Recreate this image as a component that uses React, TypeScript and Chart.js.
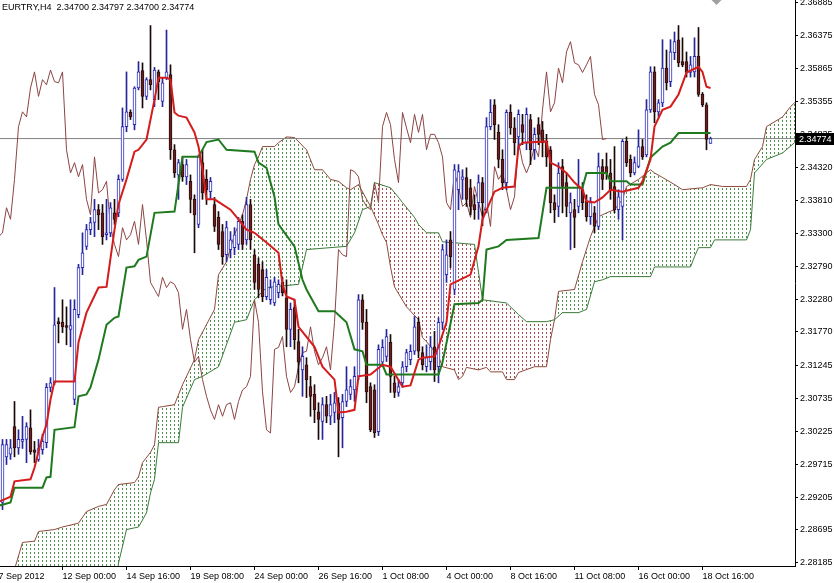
import React, { useEffect, useRef } from 'react';
import { Chart, registerables } from 'chart.js';

Chart.register(...registerables);

const FONT = '"Liberation Sans", Arial, sans-serif';
const TITLE = 'EURTRY,H4  2.34700 2.34797 2.34700 2.34774';
const LAST_PRICE = 2.34774;
const FIRST_BAR = 1;
const CHIKOU_SHIFT = 26;
const X_MIN = 0.375;
const X_MAX = 199.125;
const Y_MIN = 2.28134;
const Y_MAX = 2.36927;

const X_TICKS = [0, 16, 32, 48, 64, 80, 96, 112, 128, 144, 160, 176];
const X_LABELS = ['7 Sep 2012', '12 Sep 00:00', '14 Sep 16:00', '19 Sep 08:00', '24 Sep 00:00', '26 Sep 16:00', '1 Oct 08:00', '4 Oct 00:00', '8 Oct 16:00', '11 Oct 08:00', '16 Oct 00:00', '18 Oct 16:00'];
const Y_TICKS = [2.36885, 2.36375, 2.35865, 2.35355, 2.34835, 2.3432, 2.3381, 2.333, 2.3279, 2.3228, 2.3177, 2.31245, 2.30735, 2.30225, 2.29715, 2.29205, 2.28695, 2.28185];

const OPEN = [
  2.2912, 2.2983, 2.2987, 2.3030, 2.2997, 2.3007, 2.3010, 2.3028, 2.2994, 2.2979,
  2.2994, 2.3005, 2.3091, 2.3098, 2.3193, 2.3192, 2.3187, 2.3181, 2.3072, 2.3204,
  2.3277, 2.3310, 2.3336, 2.3347, 2.3367, 2.3362, 2.3328, 2.3331, 2.3362, 2.3362,
  2.3414, 2.3496, 2.3518, 2.3499, 2.3556, 2.3583, 2.3543, 2.3569, 2.3538, 2.3581,
  2.3535, 2.3572, 2.3577, 2.3460, 2.3421, 2.3437, 2.3418, 2.3411, 2.3383, 2.3344,
  2.3440, 2.3414, 2.3395, 2.3375, 2.3355, 2.3333, 2.3297, 2.3305, 2.3308, 2.3313,
  2.3349, 2.3320, 2.3375, 2.3297, 2.3282, 2.3274, 2.3232, 2.3227, 2.3222, 2.3238,
  2.3254, 2.3230, 2.3181, 2.3215, 2.3162, 2.3118, 2.3126, 2.3092, 2.3080, 2.3053,
  2.3038, 2.3064, 2.3046, 2.3052, 2.3067, 2.3044, 2.3069, 2.3080, 2.3087, 2.3108,
  2.3227, 2.3192, 2.3092, 2.3087, 2.3022, 2.3130, 2.3139, 2.3161, 2.3098, 2.3083,
  2.3098, 2.3123, 2.3134, 2.3147, 2.3192, 2.3145, 2.3123, 2.3131, 2.3154, 2.3123,
  2.3192, 2.3266, 2.3320, 2.3243, 2.3398, 2.3414, 2.3417, 2.3401, 2.3375, 2.3378,
  2.3409, 2.3367, 2.3496, 2.3530, 2.3487, 2.3445, 2.3409, 2.3518, 2.3494, 2.3480,
  2.3499, 2.3471, 2.3507, 2.3460, 2.3499, 2.3491, 2.3473, 2.3460, 2.3378, 2.3372,
  2.3434, 2.3409, 2.3362, 2.3367, 2.3372, 2.3398, 2.3380, 2.3356, 2.3362, 2.3341,
  2.3434, 2.3434, 2.3424, 2.3403, 2.3367, 2.3372, 2.3473, 2.3445, 2.3424, 2.3434,
  2.3465, 2.3452, 2.3522, 2.3581, 2.3519, 2.3533, 2.3587, 2.3566, 2.3611, 2.3631,
  2.3597, 2.3597, 2.3580, 2.3581, 2.3605, 2.3546, 2.3530, 2.34700,
];
const HIGH = [
  2.3010, 2.3010, 2.3010, 2.3069, 2.3025, 2.3046, 2.3036, 2.3056, 2.3007, 2.3010,
  2.3018, 2.3097, 2.3106, 2.3246, 2.3199, 2.3227, 2.3216, 2.3227, 2.3227, 2.3282,
  2.3331, 2.3344, 2.3355, 2.3383, 2.3375, 2.3375, 2.3383, 2.3378, 2.3383, 2.3421,
  2.3525, 2.3581, 2.3522, 2.3558, 2.3597, 2.3595, 2.3572, 2.3653, 2.3588, 2.3584,
  2.3572, 2.3646, 2.3592, 2.3468, 2.3445, 2.3448, 2.3445, 2.3421, 2.3390, 2.3452,
  2.3460, 2.3429, 2.3417, 2.3386, 2.3364, 2.3344, 2.3349, 2.3333, 2.3339, 2.3355,
  2.3359, 2.3386, 2.3383, 2.3305, 2.3292, 2.3286, 2.3274, 2.3258, 2.3262, 2.3258,
  2.3262, 2.3258, 2.3222, 2.3227, 2.3181, 2.3154, 2.3137, 2.3108, 2.3095, 2.3067,
  2.3075, 2.3077, 2.3080, 2.3083, 2.3075, 2.3080, 2.3123, 2.3103, 2.3123, 2.3235,
  2.3235, 2.3212, 2.3098, 2.3095, 2.3157, 2.3165, 2.3181, 2.3173, 2.3108, 2.3103,
  2.3131, 2.3150, 2.3157, 2.3201, 2.3199, 2.3154, 2.3157, 2.3170, 2.3178, 2.3199,
  2.3313, 2.3320, 2.3333, 2.3437, 2.3437, 2.3429, 2.3432, 2.3414, 2.3390, 2.3421,
  2.3417, 2.3510, 2.3538, 2.3538, 2.3499, 2.3460, 2.3522, 2.3530, 2.3510, 2.3522,
  2.3515, 2.3525, 2.3515, 2.3494, 2.3510, 2.3504, 2.3484, 2.3465, 2.3390, 2.3440,
  2.3445, 2.3424, 2.3393, 2.3383, 2.3445, 2.3409, 2.3390, 2.3386, 2.3372, 2.3455,
  2.3445, 2.3455, 2.3445, 2.3465, 2.3398, 2.3476, 2.3480, 2.3452, 2.3449, 2.3491,
  2.3476, 2.3538, 2.3589, 2.3589, 2.3538, 2.3631, 2.3615, 2.3631, 2.3643, 2.3653,
  2.3634, 2.3612, 2.3605, 2.3634, 2.3650, 2.3549, 2.3533, 2.34797,
];
const LOW = [
  2.2901, 2.2971, 2.2979, 2.2983, 2.2987, 2.2996, 2.2974, 2.2987, 2.2974, 2.2976,
  2.2987, 2.2997, 2.3084, 2.3095, 2.3160, 2.3176, 2.3157, 2.3154, 2.3064, 2.3199,
  2.3266, 2.3305, 2.3328, 2.3325, 2.3336, 2.3313, 2.3320, 2.3325, 2.3344, 2.3356,
  2.3411, 2.3488, 2.3507, 2.3491, 2.3553, 2.3525, 2.3538, 2.3553, 2.3527, 2.3538,
  2.3527, 2.3569, 2.3445, 2.3417, 2.3383, 2.3411, 2.3406, 2.3362, 2.3300, 2.3339,
  2.3383, 2.3375, 2.3383, 2.3333, 2.3305, 2.3282, 2.3286, 2.3292, 2.3297, 2.3305,
  2.3305, 2.3313, 2.3305, 2.3243, 2.3230, 2.3224, 2.3227, 2.3220, 2.3218, 2.3230,
  2.3233, 2.3154, 2.3154, 2.3150, 2.3098, 2.3077, 2.3075, 2.3046, 2.3036, 2.3010,
  2.3010, 2.3036, 2.3033, 2.3036, 2.2983, 2.2997, 2.3061, 2.3072, 2.3069, 2.3103,
  2.3181, 2.3067, 2.3022, 2.3013, 2.3016, 2.3123, 2.3131, 2.3083, 2.3075, 2.3077,
  2.3091, 2.3115, 2.3126, 2.3142, 2.3137, 2.3118, 2.3115, 2.3118, 2.3100, 2.3098,
  2.3181, 2.3254, 2.3277, 2.3235, 2.3367, 2.3383, 2.3372, 2.3359, 2.3352, 2.3352,
  2.3342, 2.3362, 2.3491, 2.3476, 2.3432, 2.3398, 2.3398, 2.3484, 2.3452, 2.3460,
  2.3468, 2.3460, 2.3437, 2.3445, 2.3468, 2.3449, 2.3434, 2.3362, 2.3347, 2.3356,
  2.3362, 2.3356, 2.3305, 2.3308, 2.3362, 2.3367, 2.3349, 2.3344, 2.3331, 2.3336,
  2.3398, 2.3414, 2.3383, 2.3362, 2.3352, 2.3320, 2.3434, 2.3418, 2.3421, 2.3432,
  2.3445, 2.3449, 2.3518, 2.3502, 2.3511, 2.3527, 2.3553, 2.3558, 2.3600, 2.3589,
  2.3589, 2.3573, 2.3573, 2.3573, 2.3543, 2.3527, 2.3460, 2.34700,
];
const CLOSE = [
  2.3002, 2.3002, 2.2997, 2.2997, 2.3010, 2.3010, 2.3030, 2.2991, 2.2990, 2.2996,
  2.3007, 2.3091, 2.3098, 2.3188, 2.3190, 2.3185, 2.3184, 2.3187, 2.3212, 2.3277,
  2.3300, 2.3336, 2.3347, 2.3367, 2.3359, 2.3325, 2.3331, 2.3370, 2.3352, 2.3414,
  2.3496, 2.3519, 2.3511, 2.3556, 2.3581, 2.3543, 2.3569, 2.3561, 2.3584, 2.3566,
  2.3564, 2.3581, 2.3460, 2.3424, 2.3440, 2.3418, 2.3437, 2.3383, 2.3359, 2.3449,
  2.3393, 2.3398, 2.3411, 2.3341, 2.3313, 2.3294, 2.3339, 2.3320, 2.3328, 2.3349,
  2.3313, 2.3375, 2.3320, 2.3254, 2.3243, 2.3232, 2.3262, 2.3246, 2.3255, 2.3251,
  2.3238, 2.3181, 2.3212, 2.3165, 2.3130, 2.3139, 2.3103, 2.3077, 2.3056, 2.3041,
  2.3064, 2.3046, 2.3064, 2.3067, 2.3041, 2.3069, 2.3087, 2.3092, 2.3108, 2.3227,
  2.3192, 2.3084, 2.3025, 2.3020, 2.3150, 2.3153, 2.3170, 2.3108, 2.3083, 2.3092,
  2.3123, 2.3145, 2.3147, 2.3185, 2.3147, 2.3126, 2.3137, 2.3154, 2.3118, 2.3192,
  2.3305, 2.3297, 2.3294, 2.3429, 2.3426, 2.3418, 2.3383, 2.3372, 2.3367, 2.3409,
  2.3378, 2.3496, 2.3518, 2.3499, 2.3445, 2.3409, 2.3518, 2.3494, 2.3471, 2.3515,
  2.3487, 2.3515, 2.3460, 2.3484, 2.3484, 2.3471, 2.3449, 2.3378, 2.3367, 2.3424,
  2.3403, 2.3372, 2.3378, 2.3355, 2.3403, 2.3378, 2.3356, 2.3378, 2.3341, 2.3434,
  2.3414, 2.3424, 2.3398, 2.3367, 2.3387, 2.3473, 2.3440, 2.3424, 2.3440, 2.3465,
  2.3449, 2.3522, 2.3581, 2.3519, 2.3533, 2.3587, 2.3564, 2.3612, 2.3628, 2.3595,
  2.3592, 2.3580, 2.3592, 2.3605, 2.3546, 2.3530, 2.3476, 2.34774,
];

// [bar index, price]
const TENKAN = [
  [0, 2.2913], [3, 2.2921], [4, 2.2945], [8, 2.2948], [9, 2.2966], [10, 2.2991], [11, 2.3015], [12, 2.3033],
  [13, 2.3072], [14, 2.3100], [19, 2.3100], [20, 2.3161], [22, 2.3207], [25, 2.3246], [27, 2.3247], [29, 2.3336],
  [30, 2.3375], [32, 2.3414], [34, 2.3457], [35, 2.3460], [37, 2.3476], [39, 2.3538], [40, 2.3572], [42, 2.3572],
  [43, 2.3569], [44, 2.3518], [45, 2.3513], [47, 2.3510], [49, 2.3487], [50, 2.3465], [51, 2.3429], [52, 2.3383],
  [54, 2.3383], [58, 2.3367], [60, 2.3352], [62, 2.3336], [64, 2.3331], [67, 2.3316], [70, 2.3300], [71, 2.3251],
  [72, 2.3232], [74, 2.3227], [75, 2.3185], [79, 2.3154], [81, 2.3123], [84, 2.3103], [85, 2.3052], [87, 2.3053],
  [89, 2.3056], [90, 2.3108], [93, 2.3111], [96, 2.3126], [98, 2.3123], [101, 2.3092], [103, 2.3094], [105, 2.3134],
  [106, 2.3137], [109, 2.3139], [110, 2.3154], [112, 2.3192], [113, 2.3251], [118, 2.3266], [120, 2.3310], [121, 2.3352],
  [124, 2.3395], [126, 2.3401], [129, 2.3403], [130, 2.3465], [131, 2.3471], [137, 2.3473], [138, 2.3440], [140, 2.3434],
  [142, 2.3424], [144, 2.3409], [146, 2.3398], [147, 2.3380], [149, 2.3378], [151, 2.3386], [153, 2.3398], [156, 2.3395],
  [160, 2.3401], [161, 2.3411], [163, 2.3445], [164, 2.3496], [166, 2.3522], [168, 2.3527], [170, 2.3546], [172, 2.3580],
  [175, 2.3589], [176, 2.3581], [177, 2.3558], [178, 2.3556],
];
const KIJUN = [
  [0, 2.2907], [3, 2.2912], [4, 2.2935], [11, 2.2935], [12, 2.2951], [13, 2.2952], [14, 2.3025], [19, 2.3029],
  [20, 2.3077], [22, 2.3080], [23, 2.3091], [25, 2.3134], [27, 2.3188], [29, 2.3199], [30, 2.3201], [32, 2.3277],
  [34, 2.3279], [35, 2.3289], [37, 2.3294], [39, 2.3362], [44, 2.3364], [46, 2.3449], [50, 2.3449], [52, 2.3472],
  [55, 2.3476], [57, 2.3460], [64, 2.3457], [65, 2.3440], [67, 2.3432], [69, 2.3387], [70, 2.3344], [74, 2.3310],
  [76, 2.3258], [77, 2.3243], [80, 2.3209], [84, 2.3209], [87, 2.3192], [89, 2.3150], [91, 2.3147], [92, 2.3126],
  [96, 2.3126], [97, 2.3111], [110, 2.3111], [111, 2.3130], [114, 2.3220], [120, 2.3222], [121, 2.3227], [122, 2.3305],
  [125, 2.3310], [127, 2.3320], [135, 2.3323], [137, 2.3401], [146, 2.3401], [147, 2.3424], [152, 2.3424], [153, 2.3411],
  [157, 2.3411], [158, 2.3406], [161, 2.3406], [163, 2.3448], [166, 2.3465], [168, 2.3471], [170, 2.3486], [178, 2.3486],
];
const SPAN_A = [
  [0, 2.2761], [4, 2.2808], [6, 2.2850], [9, 2.2852], [10, 2.2867], [14, 2.2870], [16, 2.2874], [20, 2.2880],
  [22, 2.2898], [25, 2.2906], [27, 2.2909], [29, 2.2932], [30, 2.2940], [34, 2.2943], [35, 2.2952], [36, 2.2974],
  [38, 2.2990], [39, 2.3002], [40, 2.3060], [41, 2.3061], [44, 2.3064], [46, 2.3095], [49, 2.3134], [50, 2.3165],
  [54, 2.3212], [55, 2.3266], [57, 2.3286], [59, 2.3328], [61, 2.3359], [62, 2.3383], [63, 2.3414], [64, 2.3437],
  [65, 2.3449], [66, 2.3465], [69, 2.3465], [70, 2.3471], [72, 2.3480], [74, 2.3479], [77, 2.3460], [79, 2.3429],
  [81, 2.3429], [83, 2.3414], [85, 2.3411], [87, 2.3401], [88, 2.3398], [90, 2.3406], [93, 2.3372], [95, 2.3344],
  [96, 2.3328], [97, 2.3316], [98, 2.3278], [99, 2.3247], [102, 2.3216], [105, 2.3196], [106, 2.3168], [107, 2.3162],
  [110, 2.3139], [111, 2.3123], [114, 2.3118], [115, 2.3103], [116, 2.3108], [117, 2.3122], [120, 2.3118], [122, 2.3122],
  [123, 2.3115], [126, 2.3115], [127, 2.3103], [129, 2.3103], [130, 2.3114], [134, 2.3123], [137, 2.3123], [138, 2.3165],
  [139, 2.3196], [140, 2.3240], [144, 2.3243], [146, 2.3286], [148, 2.3325], [150, 2.3356], [152, 2.3362], [154, 2.3367],
  [156, 2.3383], [157, 2.3403], [160, 2.3414], [163, 2.3429], [164, 2.3424], [166, 2.3417], [169, 2.3406], [171, 2.3398],
  [176, 2.3401], [178, 2.3406], [181, 2.3403], [187, 2.3403], [188, 2.3414], [189, 2.3445], [191, 2.3465], [192, 2.3496],
  [196, 2.3511], [198, 2.3527], [199, 2.3533], [200, 2.3538],
];
const SPAN_B = [
  [0, 2.2730], [29, 2.2761], [30, 2.2818], [32, 2.2870], [35, 2.2874], [37, 2.2896], [38, 2.2927], [39, 2.2948],
  [40, 2.3005], [45, 2.3005], [46, 2.3060], [49, 2.3103], [51, 2.3108], [55, 2.3123], [59, 2.3192], [62, 2.3196],
  [64, 2.3227], [67, 2.3246], [75, 2.3251], [77, 2.3305], [87, 2.3310], [89, 2.3331], [91, 2.3367], [93, 2.3372],
  [94, 2.3409], [98, 2.3401], [100, 2.3386], [101, 2.3378], [104, 2.3355], [105, 2.3344], [107, 2.3331], [110, 2.3331],
  [111, 2.3317], [119, 2.3313], [121, 2.3227], [127, 2.3222], [130, 2.3204], [132, 2.3193], [137, 2.3193], [139, 2.3196],
  [141, 2.3207], [145, 2.3207], [147, 2.3212], [149, 2.3255], [151, 2.3258], [153, 2.3263], [163, 2.3263], [164, 2.3278],
  [173, 2.3278], [174, 2.3294], [175, 2.3308], [178, 2.3308], [179, 2.3320], [187, 2.3320], [188, 2.3336], [189, 2.3424],
  [192, 2.3445], [196, 2.3455], [199, 2.3471], [200, 2.3476],
];

const pts = (arr: number[][]) => arr.map(([k, v]) => ({ x: k, y: v }));

export default function App() {
  const ref = useRef<HTMLCanvasElement>(null);

  useEffect(() => {
    const canvas = ref.current!;
    const ctx = canvas.getContext('2d')!;

    const hatch = (color: string) => {
      const c = document.createElement('canvas');
      c.width = 4;
      c.height = 4;
      const g = c.getContext('2d')!;
      g.fillStyle = color;
      g.fillRect(2, 0, 1, 2);
      return ctx.createPattern(c, 'repeat')!;
    };
    const greenHatch = hatch('rgba(40,125,40,0.85)');
    const brownHatch = hatch('rgba(150,45,50,0.85)');

    const bars = OPEN.map((_, i) => FIRST_BAR + i);
    const bull = OPEN.map((o, i) => CLOSE[i] >= o);
    const chikou = CLOSE.map((c, i) => ({ x: FIRST_BAR + i - CHIKOU_SHIFT, y: c }));

    const overlay = {
      id: 'mt4overlay',
      afterDraw(chart: any) {
        const { ctx: c, chartArea, scales } = chart;
        c.save();
        c.font = `9px ${FONT}`;
        c.fillStyle = '#000';
        c.textAlign = 'left';
        c.textBaseline = 'alphabetic';
        c.fillText(TITLE, 2, 10);
        const y = scales.y.getPixelForValue(LAST_PRICE);
        c.fillStyle = '#000';
        c.fillRect(chartArea.right + 1, Math.round(y) - 6, 40, 12);
        c.fillStyle = '#fff';
        c.textBaseline = 'middle';
        c.fillText(LAST_PRICE.toFixed(5), chartArea.right + 4, y + 0.5);
        const mx = scales.x.getPixelForValue(179.5);
        c.fillStyle = '#a0a0a0';
        c.beginPath();
        c.moveTo(mx - 5, 0);
        c.lineTo(mx + 5, 0);
        c.lineTo(mx, 5);
        c.closePath();
        c.fill();
        c.restore();
      },
    };

    const lineBase = { type: 'line' as const, pointRadius: 0, tension: 0, fill: false };

    const chart = new Chart(ctx, {
      type: 'line',
      data: {
        datasets: [
          {
            ...lineBase,
            label: 'Senkou Span A',
            data: pts(SPAN_A),
            borderColor: '#8e4a3c',
            borderWidth: 1,
            fill: { target: 1, above: greenHatch, below: brownHatch },
            order: 10,
          },
          {
            ...lineBase,
            label: 'Senkou Span B',
            data: pts(SPAN_B),
            borderColor: '#3b7b3b',
            borderWidth: 1,
            order: 9,
          },
          {
            ...lineBase,
            label: 'Last',
            data: [{ x: X_MIN - 1, y: LAST_PRICE }, { x: X_MAX + 1, y: LAST_PRICE }],
            borderColor: '#808080',
            borderWidth: 1,
            order: 8,
          },
          {
            ...lineBase,
            label: 'Chikou Span',
            data: chikou,
            borderColor: '#8c4444',
            borderWidth: 1,
            order: 7,
          },
          {
            type: 'bar',
            label: 'Wicks',
            data: bars.map((k, i) => ({ x: k, y: [LOW[i], HIGH[i]] })),
            backgroundColor: bull.map((b) => (b ? '#26269a' : '#1a0808')),
            borderWidth: 0,
            grouped: false,
            barThickness: 1,
            maxBarThickness: 1,
            minBarLength: 1,
            order: 5,
          } as any,
          {
            type: 'bar',
            label: 'Bodies',
            data: bars.map((k, i) => ({ x: k, y: [OPEN[i], CLOSE[i]] })),
            backgroundColor: bull.map((b) => (b ? '#ffffff' : '#6a2020')),
            borderColor: bull.map((b) => (b ? '#2a2ab8' : '#2a0c0c')),
            borderWidth: 1,
            borderSkipped: false,
            grouped: false,
            barThickness: 3,
            maxBarThickness: 3,
            minBarLength: 1,
            order: 4,
          } as any,
          {
            ...lineBase,
            label: 'Kijun-sen',
            data: pts(KIJUN),
            borderColor: '#1f7a1f',
            borderWidth: 2,
            order: 2,
          },
          {
            ...lineBase,
            label: 'Tenkan-sen',
            data: pts(TENKAN),
            borderColor: '#d41c1c',
            borderWidth: 2,
            order: 1,
          },
        ] as any,
      },
      options: {
        responsive: false,
        animation: false,
        devicePixelRatio: 1,
        events: [],
        layout: { padding: 0 },
        plugins: { legend: { display: false }, tooltip: { enabled: false }, title: { display: false } },
        elements: { point: { radius: 0 } },
        scales: {
          x: {
            type: 'linear',
            min: X_MIN,
            max: X_MAX,
            bounds: 'data',
            offset: false,
            afterBuildTicks: (scale: any) => {
              scale.ticks = X_TICKS.map((v) => ({ value: v }));
            },
            afterFit: (scale: any) => {
              scale.height = 17;
              scale.paddingLeft = 0;
              scale.paddingRight = 0;
            },
            ticks: {
              autoSkip: false,
              maxRotation: 0,
              minRotation: 0,
              align: 'start',
              padding: 1,
              color: '#000',
              font: { family: FONT, size: 9 },
              callback: (_v: any, i: number) => X_LABELS[i],
            },
            grid: { display: true, drawOnChartArea: false, drawTicks: true, tickLength: 4, color: '#000', offset: false },
            border: { display: true, color: '#000', width: 1 },
          },
          y: {
            type: 'linear',
            position: 'right',
            min: Y_MIN,
            max: Y_MAX,
            bounds: 'data',
            afterBuildTicks: (scale: any) => {
              scale.ticks = Y_TICKS.map((v) => ({ value: v }));
            },
            afterFit: (scale: any) => {
              scale.width = 39;
              scale.paddingTop = 0;
              scale.paddingBottom = 0;
            },
            ticks: {
              autoSkip: false,
              padding: 2,
              color: '#000',
              font: { family: FONT, size: 9 },
              callback: (v: any) => Number(v).toFixed(5),
            },
            grid: { display: true, drawOnChartArea: false, drawTicks: true, tickLength: 3, color: '#000' },
            border: { display: true, color: '#000', width: 1 },
          },
        },
      } as any,
      plugins: [overlay],
    });

    return () => chart.destroy();
  }, []);

  return (
    <div style={{ position: 'fixed', left: 0, top: 0, width: 834, height: 583, background: '#fff' }}>
      <canvas ref={ref} width={834} height={583} style={{ display: 'block', width: 834, height: 583 }} />
    </div>
  );
}
